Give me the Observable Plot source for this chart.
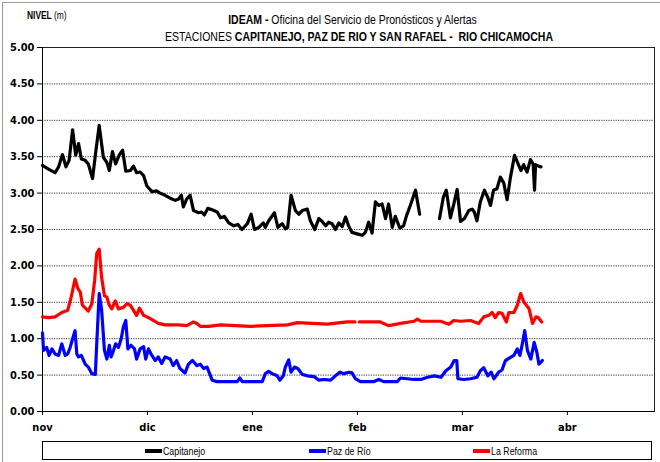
<!DOCTYPE html>
<html>
<head>
<meta charset="utf-8">
<script src="https://cdn.jsdelivr.net/npm/d3@7"></script>
<script src="https://cdn.jsdelivr.net/npm/@observablehq/plot@0.6"></script>
<style>
  body { margin: 0; background: #fff; }
  #wrap { position: relative; width: 660px; height: 462px; overflow: hidden;
          font-family: "Liberation Sans", Arial, sans-serif; }
  #border { position: absolute; left: 2px; top: 2px; width: 660px; height: 470px; border: 1px solid #9a9a9a; box-sizing: border-box; }
  #nivel { position: absolute; left: 27px; top: 10px; font-size: 10px; transform: scaleX(0.84); transform-origin: left center; }
  .tit { position: absolute; left: 0; text-align: center; font-size: 12.5px; transform: scaleX(0.84); transform-origin: center center; white-space: nowrap; }
  #t1 { width: 705px; top: 13px; }
  #t2 { width: 718px; top: 30px; }
  #chart { position: absolute; left: 0; top: 0; }
  #legend { position: absolute; left: 42px; top: 441px; width: 610px; height: 19px; border: 1px solid #000; box-sizing: border-box; font-size: 10.5px; }
  .item { position: absolute; top: 3px; white-space: nowrap; }
  .sw { display: inline-block; width: 17px; height: 4px; vertical-align: middle; margin-right: 1px; position: relative; top: -1px; }
  .lt { display: inline-block; transform: scaleX(0.84); transform-origin: left center; }
  svg text { font-weight: bold; }
</style>
</head>
<body>
<div id="wrap">
  <div id="border"></div>
  <div id="chart"></div>
  <div id="nivel"><b>NIVEL</b> (m)</div>
  <div id="t1" class="tit"><b>IDEAM -</b> Oficina del Servicio de Pronósticos y Alertas</div>
  <div id="t2" class="tit">ESTACIONES <b>CAPITANEJO, PAZ DE RIO Y SAN RAFAEL -&nbsp; RIO CHICAMOCHA</b></div>
  <div id="legend"></div>
</div>
<script>
// Month tick labels (axis runs from 1 nov to late abr)
const meses = ["nov", "dic", "ene", "feb", "mar", "abr"];
const series = ["Capitanejo", "Paz de Río", "La Reforma"];
const colores = ["#000000", "#0000ff", "#ff0000"];

// Days since 1 november, and level (m)
const capDias = [0,1.7,3.6,4.6,5.7,6.7,7.6,8.6,9.5,10.3,11.1,12.2,13.1,14.3,15.2,16.2,17.4,18.4,19.1,20.0,20.9,21.9,22.9,23.8,25.1,26.0,26.9,27.9,28.9,29.8,
  31.3,32.7,33.7,35.2,36.7,38.2,39.2,40.0,40.6,41.6,42.6,43.6,45.1,46.0,46.8,47.8,49.1,50.6,51.6,52.7,54.0,55.5,56.7,57.9,59.5,60.6,
  61.6,62.9,64.2,64.8,65.8,67.5,68.5,69.8,70.7,71.4,72.4,73.7,74.7,75.7,77.2,78.1,79.4,80.6,81.6,82.6,83.5,84.5,85.5,86.5,87.5,88.5,89.4,90.4,91.9,
  93.3,94.1,95.0,95.9,96.8,97.7,98.6,99.5,100.3,101.3,102.1,103.3,104.3,105.1,106.1,107.5,108.6,111,
  113.9,114.9,115.7,116.8,117.7,118.6,119.5,120.6,121.9,122.9,123.5,124.3,125.3,126.5,127.5,128.3,129.2,130.2,131.2,132.2,133.2,134.2,135.4,136.3,137.3,138.1,139.1,140.1,140.9,141.3,141.6,142.5,143.2];
const capNivel = [3.38,3.33,3.28,3.36,3.53,3.36,3.45,3.87,3.52,3.68,3.47,3.45,3.40,3.20,3.56,3.93,3.49,3.42,3.31,3.57,3.40,3.52,3.59,3.30,3.31,3.37,3.28,3.29,3.24,3.10,
  3.02,3.03,3.00,2.97,2.93,2.90,2.92,2.97,2.81,2.92,2.97,2.76,2.73,2.74,2.70,2.79,2.77,2.74,2.66,2.68,2.59,2.55,2.57,2.50,2.58,2.71,
  2.50,2.53,2.59,2.53,2.62,2.73,2.53,2.58,2.51,2.53,2.97,2.76,2.71,2.76,2.78,2.62,2.50,2.65,2.61,2.55,2.60,2.58,2.50,2.59,2.54,2.67,2.55,2.46,2.44,
  2.42,2.46,2.60,2.45,2.88,2.83,2.85,2.65,2.85,2.53,2.68,2.52,2.55,2.69,2.83,3.04,2.71,null,
  2.65,2.94,3.04,2.66,2.85,3.05,2.61,2.65,2.76,2.78,2.74,2.62,2.88,3.04,2.94,2.83,3.04,3.06,3.22,3.14,2.91,3.22,3.52,3.42,3.31,3.39,3.29,3.46,3.40,3.04,3.39,3.37,3.36];

const pazDias = [0,0.3,1.2,1.9,2.7,3.6,4.6,5.5,6.5,7.2,7.9,8.6,9.3,9.8,10.3,11.1,12.2,13.1,14.1,15.1,15.5,16.2,16.9,17.7,18.4,19.1,19.6,20.3,20.9,21.7,22.5,23.1,23.8,24.4,25.3,26.3,26.9,27.9,28.9,29.5,
  30.3,31.3,32.3,33.2,34.2,35.2,36.7,37.6,38.6,39.6,41.1,42.1,43.3,44.6,45.6,46.6,47.6,49.1,50.6,56.5,57.3,58.0,
  63.9,64.8,65.8,66.8,68.3,69.1,70.1,70.7,71.7,72.4,73.4,74.4,75.7,77.2,79.2,80.6,82.1,84.1,85.5,86.8,88.0,89.5,90.4,91.4,
  92.8,96.3,97.7,99.0,102.6,103.5,105.3,107.1,108.9,110.7,112.5,114.3,115.6,116.9,117.8,118.5,118.8,
  120.4,122.4,124.3,125.3,126.3,127.5,128.5,129.3,130.7,131.7,132.7,133.7,135.2,136.2,137.0,137.7,138.4,139.2,140.2,141.2,142.0,142.6,143.6];
const pazNivel = [1.08,0.84,0.88,0.77,0.86,0.79,0.77,0.93,0.77,0.79,0.88,1.00,1.11,0.79,0.75,0.77,0.65,0.61,0.52,0.51,0.93,1.62,1.39,0.84,0.72,0.91,0.75,0.84,0.93,0.88,1.00,1.16,1.25,0.86,0.91,0.86,0.72,0.86,0.89,0.72,
  0.86,0.77,0.70,0.75,0.66,0.75,0.72,0.63,0.70,0.59,0.53,0.65,0.70,0.63,0.65,0.59,0.61,0.43,0.41,0.41,0.46,0.41,
  0.41,0.52,0.55,0.52,0.49,0.43,0.49,0.61,0.71,0.54,0.61,0.59,0.51,0.49,0.48,0.43,0.44,0.43,0.49,0.54,0.52,0.54,0.53,0.45,
  0.41,0.41,0.44,0.41,0.41,0.46,0.45,0.44,0.44,0.47,0.49,0.47,0.56,0.61,0.70,0.70,0.45,
  0.44,0.45,0.47,0.56,0.60,0.49,0.54,0.45,0.54,0.57,0.70,0.73,0.77,0.86,0.77,0.93,1.11,0.84,0.72,0.95,0.81,0.65,0.70];

const refDias = [0,1.7,3.6,5.5,7.2,8.2,9.3,10.1,10.8,11.4,13.1,14.1,14.9,15.5,16.2,16.9,17.7,18.4,19.1,19.8,20.8,21.7,23.1,24.1,25.1,26.0,26.9,27.7,28.9,
  30.3,31.8,33.2,35.2,39.1,41.6,43.6,44.6,45.6,48.0,51.6,60.4,71.3,74.3,83.1,89.0,91.3,91.9,
  92.5,98.1,100.3,103.5,107.1,108.0,108.9,114.2,116.4,117.7,119.5,
  122.4,124.8,126.3,127.8,128.8,129.7,130.7,131.7,133.0,133.7,135.2,136.2,137.2,138.2,139.7,140.7,141.7,142.4,143.4];
const refNivel = [1.30,1.29,1.30,1.36,1.39,1.57,1.82,1.69,1.64,1.46,1.38,1.48,1.80,2.17,2.23,1.84,1.59,1.57,1.46,1.41,1.52,1.41,1.43,1.48,1.46,1.39,1.32,1.42,1.32,
  1.29,1.25,1.21,1.19,1.19,1.18,1.23,1.21,1.17,1.17,1.19,1.17,1.19,1.22,1.20,1.23,1.23,null,
  1.23,1.23,1.18,1.21,1.24,1.27,1.24,1.24,1.20,1.25,1.24,
  1.25,1.21,1.30,1.32,1.36,1.29,1.36,1.35,1.23,1.36,1.36,1.46,1.62,1.50,1.41,1.21,1.30,1.29,1.23];

const inicio = new Date(2012, 10, 1);
// fractional month position of a day offset (months are equally spaced on the axis)
function mesPos(dia) {
  const whole = Math.floor(dia), frac = dia - whole;
  const date = d3.timeDay.offset(inicio, whole);
  const m0 = d3.timeMonth.floor(date);
  const dim = d3.timeDay.count(m0, d3.timeMonth.offset(m0, 1));
  return d3.timeMonth.count(inicio, m0) + (date.getDate() - 1 + frac) / dim;
}

const datos = [];
[[capDias, capNivel], [pazDias, pazNivel], [refDias, refNivel]].forEach(([dias, nivel], i) => {
  dias.forEach((d, j) => datos.push({serie: series[i], x: mesPos(d), y: nivel[j] == null ? NaN : nivel[j]}));
});

const yTicks = d3.range(0, 5.001, 0.5);

const chart = Plot.plot({
  width: 660,
  height: 440,
  marginLeft: 42,
  marginRight: 6,
  marginTop: 47,
  marginBottom: 29,
  style: {fontFamily: '"DejaVu Sans Condensed", "DejaVu Sans", sans-serif', fontSize: "11px", color: "#000", background: "transparent"},
  x: {domain: [0, 5.83], ticks: d3.range(0, 6), tickFormat: i => meses[i], label: null},
  y: {domain: [0, 5], ticks: yTicks, tickFormat: d => d.toFixed(2), label: null},
  color: {domain: series, range: colores},
  marks: [
    Plot.gridY(yTicks.filter(t => t > 0 && t < 5), {stroke: "#333", strokeOpacity: 1, strokeDasharray: "1.2,1.2"}),
    Plot.frame({stroke: "#222"}),
    Plot.axisY({ticks: yTicks, tickFormat: d => d.toFixed(2), tickSize: 5, tickPadding: 3, fontWeight: "bold", fontSize: 11}),
    Plot.axisX({ticks: d3.range(0, 6), tickFormat: i => meses[i], tickSize: 4, tickPadding: 8, fontWeight: "bold", fontSize: 11}),
    Plot.ruleX([0], {stroke: "#000"}),
    Plot.ruleY([0], {stroke: "#000"}),
    Plot.line(datos, {x: "x", y: "y", z: "serie", stroke: "serie", strokeWidth: 3.2, strokeLinejoin: "round", strokeLinecap: "round"})
  ]
});
document.getElementById("chart").appendChild(chart);

const legend = document.getElementById("legend");
const lx = [102, 266, 430];
series.forEach((s, i) => {
  const it = document.createElement("div");
  it.className = "item";
  it.style.left = lx[i] + "px";
  it.innerHTML = `<span class="sw" style="background:${colores[i]}"></span><span class="lt">${s}</span>`;
  legend.appendChild(it);
});
</script>
</body>
</html>
